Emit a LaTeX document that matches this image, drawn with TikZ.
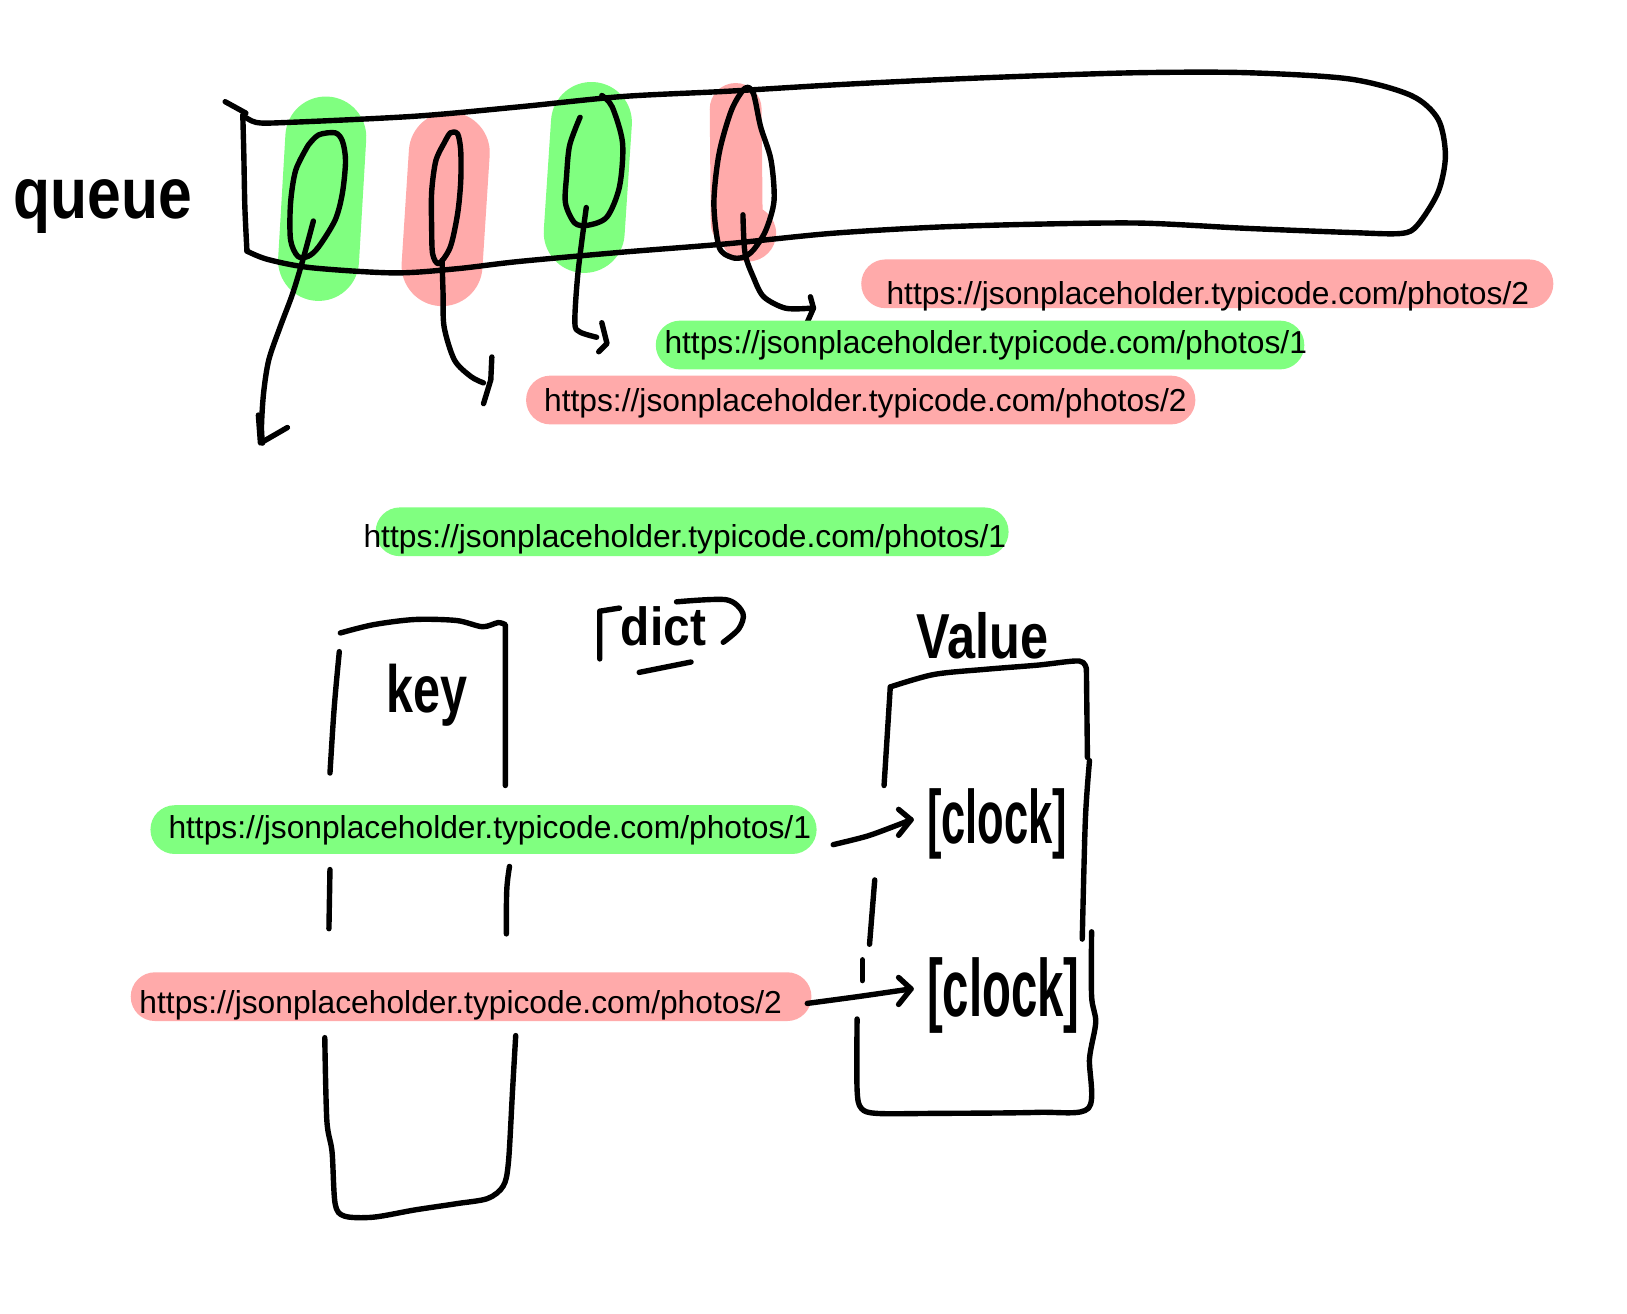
\documentclass[tikz,border=0pt]{standalone}
\usepackage{fontspec}
\setmainfont{Liberation Sans}
\newfontfamily\handfont{Liberation Sans}
\usepackage{graphicx}
\definecolor{hlgreen}{RGB}{128,255,128}
\definecolor{hlred}{RGB}{255,170,170}
\begin{document}
\begin{tikzpicture}[x=0.5pt,y=-0.5pt,
  ink/.style={line width=2.6pt,line cap=round,line join=round},
  urltext/.style={inner sep=0pt,anchor=base west,font=\fontsize{15.3}{18}\selectfont},
  hand/.style={inner sep=0pt,anchor=north west},
  gpill/.style={fill=hlgreen,rounded corners=11.7pt},
  rpill/.style={fill=hlred,rounded corners=11.7pt},
  ghl/.style={draw=hlgreen,line width=39pt,line cap=round},
  rhl/.style={draw=hlred,line width=39pt,line cap=round}]
\useasboundingbox (0,0) rectangle (1568,1266);
\fill[white] (0,0) rectangle (1568,1266);

% ---------- highlights in queue ----------
\draw[ghl] (314,132) -- (307,251);
\draw[rhl] (433,147) -- (426,256);
\draw[ghl] (570,118) -- (563,224);
\draw[rhl,line width=25pt] (709,105) -- (710,215);
\fill[hlred] (721,225) circle[radius=27];

% ---------- queue label ----------
\node[hand] (queue) at (13,173) {\resizebox*{86pt}{26pt}{\handfont\bfseries queue}};

% ---------- queue box ----------
\draw[ink] (217,98) -- (237,109);
\draw[ink] plot[smooth] coordinates {(234,111) (247,118) (277,118) (400,112) (500,103) (600,93) (700,88) (800,82) (900,77) (1000,73) (1100,70) (1200,70) (1300,76) (1360,92) (1386,115) (1393,150) (1386,185) (1366,217) (1350,225) (1300,224) (1200,220) (1100,215) (1000,216) (900,219) (800,225) (700,235) (600,243) (500,252) (440,259) (380,263) (300,258) (258,250) (238,242)};
\draw[ink] plot[smooth] coordinates {(238,242) (236,200) (235,150) (234,111)};

% ---------- loops and arrows in queue ----------
\draw[ink] plot[smooth] coordinates {(297,140) (307,130) (323,128) (330,136) (333,155) (330,186) (323,212) (307,238) (297,247) (287,247) (280,231) (280,196) (285,164) (297,140)};
\draw[ink] plot[smooth] coordinates {(302,213) (292,250) (282,283) (270,315) (259,347) (254,379) (252,411) (253,427)};
\draw[ink] (249,400) -- (251,427) -- (277,412);

\draw[ink] plot[smooth] coordinates {(428,138) (434,128) (441,129) (444,145) (444,175) (441,206) (434,238) (423,254) (417,245) (416,220) (416,185) (420,155) (428,138)};
\draw[ink] plot[smooth] coordinates {(426,251) (427,283) (428,315) (438,347) (454,363) (466,369)};
\draw[ink] (474,344) -- (473,366) -- (466,389);

\draw[ink] plot[smooth] coordinates {(559,113) (549,140) (546,170) (545,196) (554,215) (567,217) (585,209) (597,180) (600,138) (590,103) (580,92)};
\draw[ink] plot[smooth] coordinates {(565,200) (557,263) (554,311) (559,320) (575,325)};
\draw[ink] (580,311) -- (585,331) -- (577,339);

\draw[ink] plot[smooth cycle] coordinates {(718,85) (705,106) (693,148) (688,196) (693,238) (705,248) (716,248) (726,241) (738,222) (746,193) (743,154) (733,122) (726,90)};
\draw[ink] plot[smooth] coordinates {(716,207) (718,244) (726,267) (736,286) (757,297) (781,297)};
\draw[ink] (781,286) -- (784,297) -- (776,315);

% ---------- URL pills (queue) ----------
\fill[rpill] (830,250) rectangle (1497,297);
\node[urltext] (u1) at (854,293) {https://jsonplaceholder.typicode.com/photos/2};
\fill[gpill] (632,309) rectangle (1257,356);
\node[urltext] (u2) at (640,341) {https://jsonplaceholder.typicode.com/photos/1};
\fill[rpill] (507,362) rectangle (1152,409);
\node[urltext] (u3) at (524,397) {https://jsonplaceholder.typicode.com/photos/2};

% ---------- current item ----------
\fill[gpill] (362,489) rectangle (972,536);
\node[urltext] (u4) at (350,528) {https://jsonplaceholder.typicode.com/photos/1};

% ---------- dict label ----------
\draw[ink] (578,635) -- (578,589) -- (597,586);
\node[hand] (dict) at (598,584) {\resizebox*{41pt}{19pt}{\handfont\bfseries dict}};
\draw[ink] plot[smooth] coordinates {(652,580) (700,578) (716,591) (712,606) (697,619)};
\draw[ink] (616,648) -- (666,638);

% ---------- key box ----------
\node[hand] (key) at (372,640) {\resizebox*{39pt}{30pt}{\handfont\bfseries key}};
\draw[ink] plot[smooth] coordinates {(328,610) (360,602) (400,597) (440,598) (465,604) (480,600) (487,602)} -- (487,757);
\draw[ink] (327,628) .. controls (322,680) .. (318,745);
\draw[ink] (318,838) -- (317,895);
\draw[ink] (491,835) .. controls (488,855) .. (488,900);
\draw[ink] plot[smooth] coordinates {(313,1000) (315,1080) (320,1110) (323,1160) (332,1172) (360,1173) (400,1166) (440,1160) (470,1155) (485,1143) (490,1120) (494,1050) (497,998)};

% ---------- key pills ----------
\fill[gpill] (145,776) rectangle (787,823);
\node[urltext] (k1) at (162,808) {https://jsonplaceholder.typicode.com/photos/1};
\fill[rpill] (126,937) rectangle (782,984);
\node[urltext] (k2) at (134,977) {https://jsonplaceholder.typicode.com/photos/2};

% ---------- value box ----------
\node[hand] (value) at (883,590) {\resizebox*{63.5pt}{22.5pt}{\handfont\bfseries Value}};
\draw[ink] (852,757) -- (858,662);
\draw[ink] plot[smooth] coordinates {(858,662) (900,650) (950,645) (1000,641) (1040,637) (1047,645)} -- (1048,730);
\draw[ink] plot[smooth] coordinates {(1050,733) (1046,790) (1043,905)};
\fill (1045,810) circle[radius=2.5];
\draw[ink] plot[smooth] coordinates {(1052,898) (1052,960) (1056,985) (1050,1020) (1049,1068) (1000,1072) (900,1073) (845,1073) (830,1068) (826,1050) (826,982)};
\draw[ink] (843,848) -- (838,910);
\draw[ink] (831,925) -- (831,945);

\node[hand] (clock1) at (893,760) {\resizebox*{67.5pt}{34pt}{\handfont\bfseries [clock]}};
\node[hand] (clock2) at (893,922) {\resizebox*{73.5pt}{36.5pt}{\handfont\bfseries [clock]}};

% ---------- arrows key -> value ----------
\coordinate (a1e) at (878,790);
\draw[ink] plot[smooth] coordinates {(803,814) (835,806) (860,797) (878,790)};
\draw[ink] (866,780) -- (a1e) -- (866,805);
\coordinate (a2e) at (878,953);
\draw[ink] plot[smooth] coordinates {(778,967) (830,960) (878,953)};
\draw[ink] (866,942) -- (a2e) -- (866,968);
\end{tikzpicture}
\end{document}
